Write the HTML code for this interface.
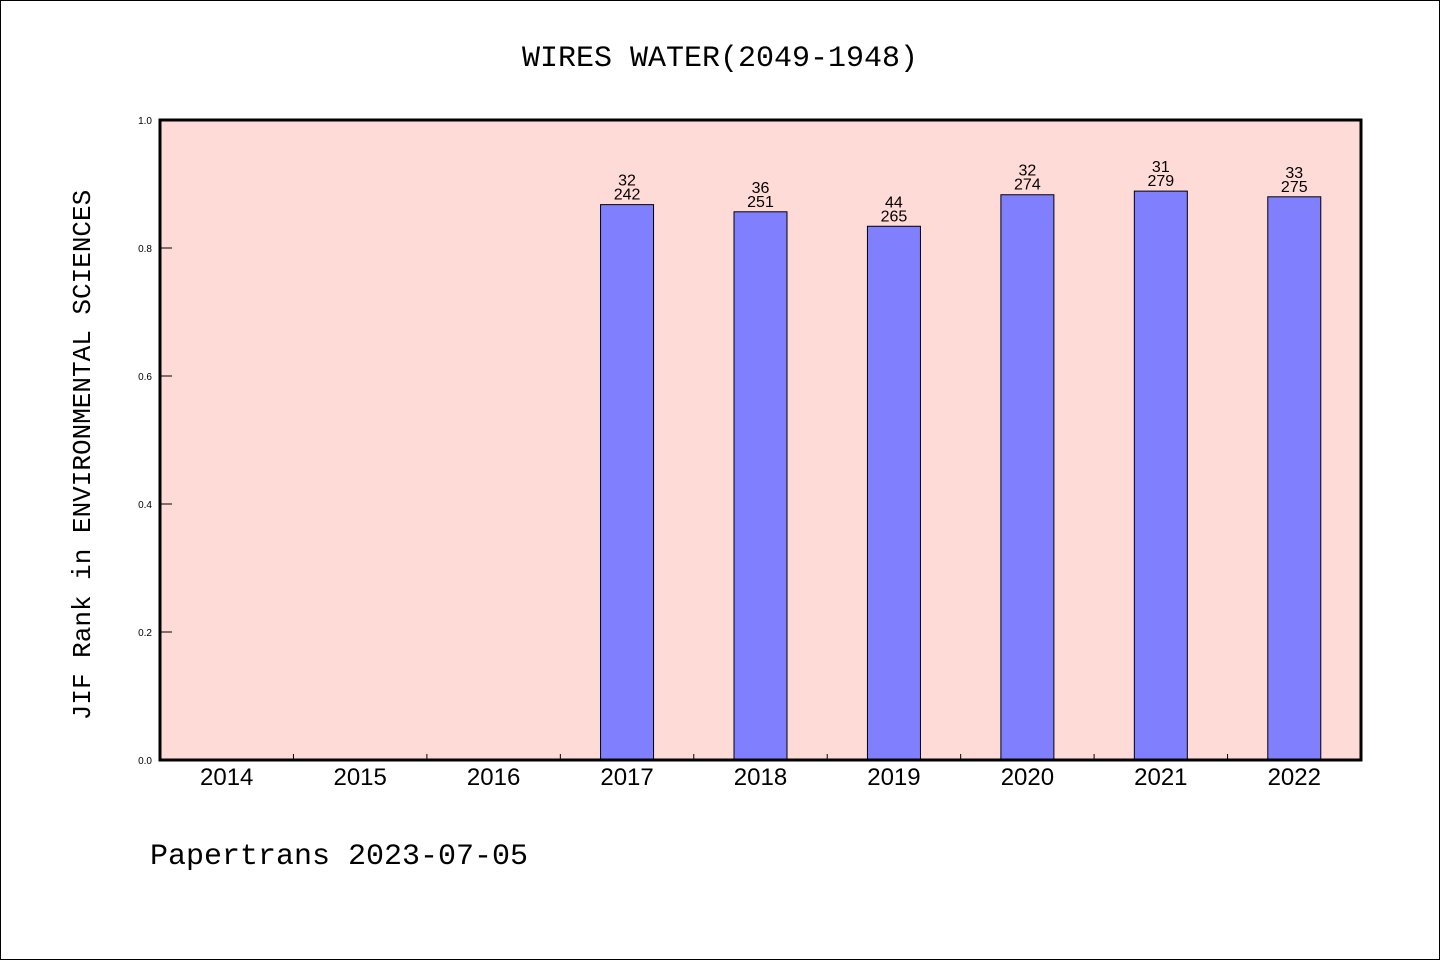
<!DOCTYPE html>
<html><head><meta charset="utf-8"><style>
html,body{margin:0;padding:0;background:#fff}
svg{display:block}
text{font-family:"Liberation Sans","WenQuanYi Zen Hei",sans-serif}
</style></head><body>
<svg id="chart" width="1440" height="960">
<rect x="0.5" y="0.5" width="1439" height="959" fill="#fff" stroke="#000"/>
<text x="720" y="66" text-anchor="middle" font-size="30" style="font-family:'WenQuanYi Zen Hei','Liberation Mono',monospace">WIRES WATER(2049-1948)</text>
<text transform="translate(90,455) rotate(-90)" text-anchor="middle" font-size="26" style="font-family:'WenQuanYi Zen Hei','Liberation Mono',monospace">JIF Rank in ENVIRONMENTAL SCIENCES</text>
<text x="150" y="864" font-size="30" style="font-family:'WenQuanYi Zen Hei','Liberation Mono',monospace">Papertrans 2023-07-05</text>
<g id="plot"></g>
</svg>
<script>
const categories=["2014","2015","2016","2017","2018","2019","2020","2021","2022"];
const ranks=[null,null,null,32,36,44,32,31,33];
const totals=[null,null,null,242,251,265,274,279,275];
const yTicks=[0,0.2,0.4,0.6,0.8,1.0];
const yTickLabels=["0.0","0.2","0.4","0.6","0.8","1.0"];
const L=160,R=1361,T=120,B=760;
const ns="http://www.w3.org/2000/svg";
const g=document.getElementById('plot');
const slot=(R-L)/categories.length;
function xC(i){return L+slot*(i+0.5);}
function y(v){return B-(B-T)*v;}
function mk(tag,attrs,txt){const e=document.createElementNS(ns,tag);for(const k in attrs)e.setAttribute(k,attrs[k]);if(txt!==undefined)e.textContent=txt;g.appendChild(e);return e;}
let bg=mk('rect',{x:L,y:T,width:R-L,height:B-T,fill:'#ffdbd8'});


yTicks.forEach((v,i)=>{
  let t=mk('line',{x1:L,x2:L+12,y1:y(v),y2:y(v),stroke:'#000','stroke-width':1});
  
  
  let l=mk('text',{x:L-8,y:y(v)+4,'text-anchor':'end','font-size':10},yTickLabels[i]);
  
  
});
categories.forEach((c,i)=>{
  if(i>0){let t=mk('line',{x1:L+slot*i,x2:L+slot*i,y1:B,y2:B-6,stroke:'#000','stroke-width':1});
  
  }
  let l=mk('text',{x:xC(i),y:B+25,'text-anchor':'middle','font-size':24},c);
  
  
  if(ranks[i]!=null){
    const v=1-ranks[i]/totals[i];
    const bw=53;
    let b=mk('rect',{x:xC(i)-bw/2,y:y(v),width:bw,height:B-y(v),fill:'#8080ff',stroke:'#000','stroke-width':1});
    
    
    let a=mk('text',{x:xC(i),y:y(v)-19,'text-anchor':'middle','font-size':16},String(ranks[i]));
    
    
    let d=mk('text',{x:xC(i),y:y(v)-5,'text-anchor':'middle','font-size':16},String(totals[i]));
    
    
  }
});
let fr=mk('rect',{x:L,y:T,width:R-L,height:B-T,fill:'none',stroke:'#000','stroke-width':3});


</script>
</body></html>
